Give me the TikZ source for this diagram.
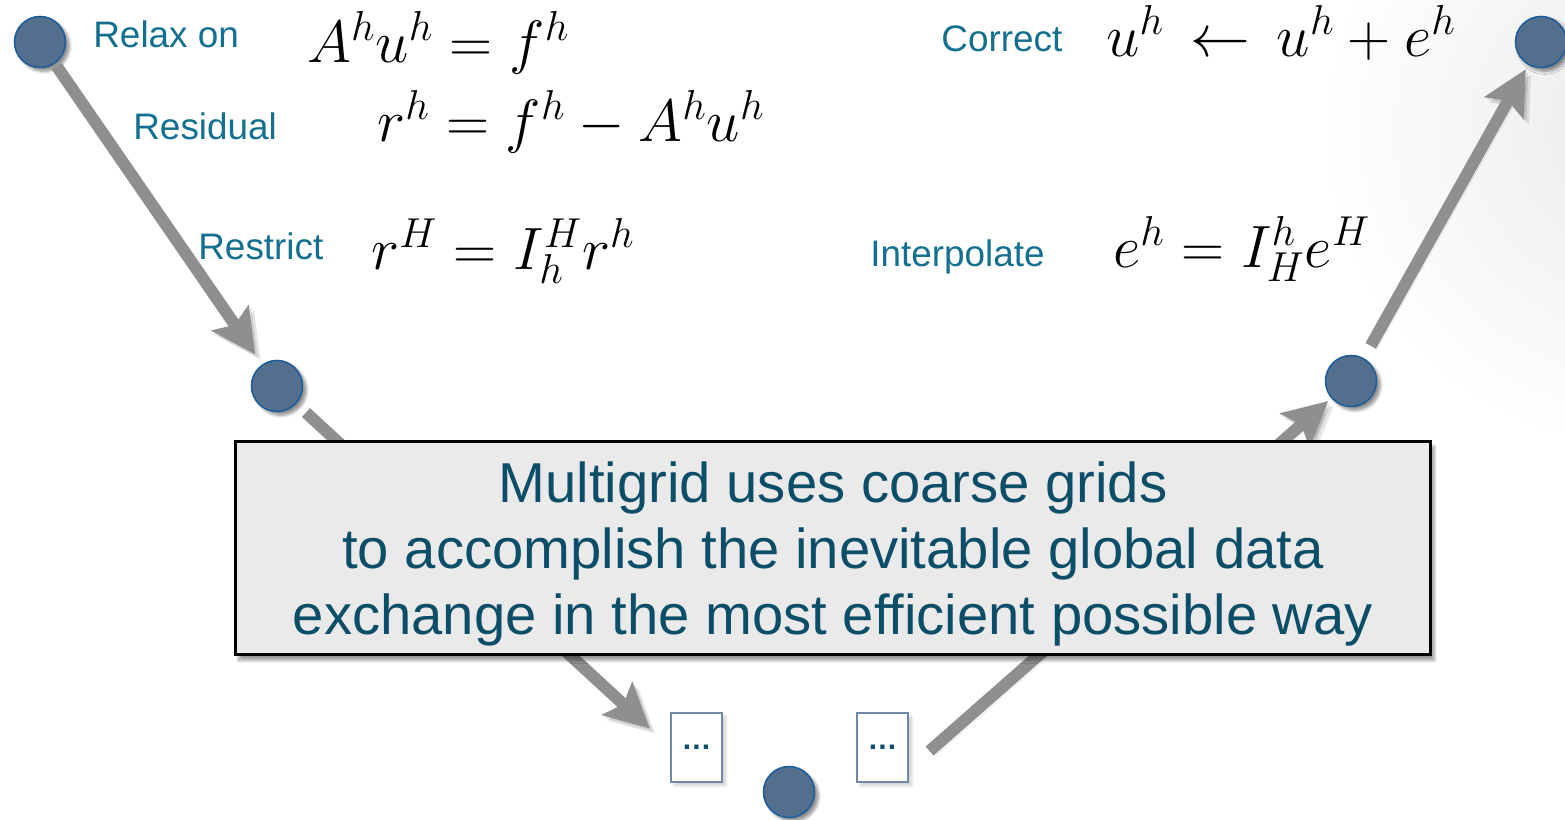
\RequirePackage{fix-cm}
\documentclass[tikz,border=0pt]{standalone}
\usepackage{fontspec}
\newfontfamily\arialf{Liberation Sans}
\usetikzlibrary{arrows.meta,shadows.blur}
\definecolor{nodefill}{HTML}{546F8E}
\definecolor{nodeline}{HTML}{1F5D99}
\definecolor{labteal}{HTML}{14708F}
\definecolor{darkteal}{HTML}{0C4E68}
\definecolor{arrgray}{HTML}{8F8F8F}
\definecolor{boxfill}{HTML}{EAEAEA}
\definecolor{smallline}{HTML}{7189A8}
\tikzset{
  gridpt/.style={circle, minimum size=1.02cm, inner sep=0pt, fill=nodefill, draw=nodeline, line width=0.9pt,
    blur shadow={shadow xshift=2.2pt, shadow yshift=-2.2pt, shadow blur steps=6, shadow opacity=45}},
  dotbox/.style={rectangle, minimum width=1.02cm, minimum height=1.38cm, inner sep=0pt, fill=white, draw=smallline, line width=0.6pt,
    text=darkteal, font=\arialf\bfseries\fontsize{17}{17}\selectfont,
    blur shadow={shadow xshift=2pt, shadow yshift=-2pt, shadow blur steps=6, shadow opacity=20}},
  vline/.style={draw=arrgray, line width=0.24cm, -{Stealth[length=0.88cm,width=0.88cm,inset=0.16cm]},
    preaction={draw=black, opacity=0.10, transform canvas={shift={(1.5pt,-1.5pt)}}},
    preaction={draw=black, opacity=0.10, transform canvas={shift={(3pt,-3pt)}}}},
  lab/.style={anchor=base west, inner sep=0pt, text=labteal, font=\arialf\fontsize{21}{25}\selectfont},
  eq/.style={anchor=base west, inner sep=0pt, font=\fontsize{34}{40}\selectfont},
  msgbox/.style={rectangle, draw=black, line width=1.7pt, fill=boxfill, minimum width=23.92cm, minimum height=4.28cm, inner sep=0pt,
    blur shadow={shadow xshift=2pt, shadow yshift=-3pt, shadow blur steps=6, shadow opacity=40}},
  msgtext/.style={align=center, text=darkteal, inner sep=0pt, font=\arialf\fontsize{32}{37.6}\selectfont}
}
\begin{document}
\begin{tikzpicture}[x=0.02cm, y=-0.02cm]
\useasboundingbox (0,0) rectangle (1565,819);
% faint shading at the right edge
\begin{scope}
\clip (0,0) rectangle (1565,819);
\shade[inner color=black!8, outer color=white] (1640,130) circle (320);
\end{scope}
% grid points
\node[gridpt] (c1) at (40,42) {};
\node[gridpt] (c2) at (277,386) {};
\node[gridpt] (c3) at (789,792) {};
\node[gridpt] (c4) at (1351,381) {};
\node[gridpt] (c5) at (1541,42) {};
\node[dotbox] (lb) at (696.5,747.5) {\ldots};
\node[dotbox] (rb) at (882.5,747.5) {\ldots};
% arrows
\draw[vline, shorten <=0.06cm, shorten >=0.24cm] (c1) -- (c2);
\draw[vline, shorten <=0.26cm, shorten >=0.56cm] (c2) -- (lb.west);
\draw[vline, shorten <=0.56cm, shorten >=0.08cm] ([yshift=-0.44cm]rb.east) -- (c4);
\draw[vline, shorten <=0.28cm, shorten >=0.10cm] (c4) -- (c5);
% labels
\node[lab] (l1) at (93,47) {Relax on};
\node[lab] (l2) at (133,139) {Residual};
\node[lab] (l3) at (198,259) {Restrict};
\node[lab] (l4) at (870,266) {Interpolate};
\node[lab] (l5) at (941,51) {Correct};
% equations
\node[eq] (e1) at (307,62) {$A^hu^h = f^h$};
\node[eq] (e2) at (377,141) {$r^h = f^h - A^hu^h$};
\node[eq] (e3) at (371,269) {$r^H = I_h^H r^h$};
\node[eq] (e4) at (1113,267) {$e^h = I_H^h e^H$};
\node[eq] (e5) at (1106,56) {$u^h \,\leftarrow\, u^h + e^h$};
% message box
\node[msgbox] (msg) at (833,548) {};
\node[msgtext] (msgt) at (833,554) {Multigrid uses coarse grids\\to accomplish the inevitable global data\\exchange in the most efficient possible way};
\end{tikzpicture}
\end{document}
